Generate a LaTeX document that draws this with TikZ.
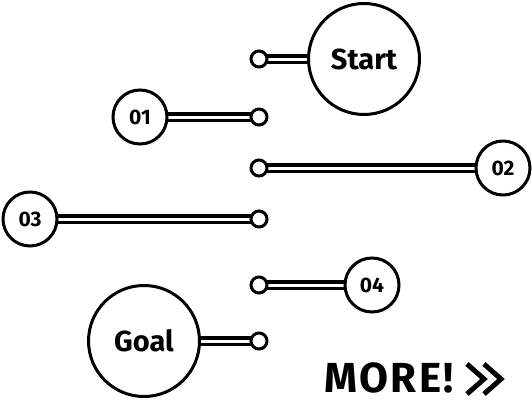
\documentclass[tikz,border=0pt]{standalone}
\usepackage{fontspec}
\setmainfont{Fira Sans}
\usetikzlibrary{backgrounds}
\tikzset{
  ring/.style={circle, draw=black, line width=3pt, fill=white, inner sep=0pt, font=\bfseries},
  bigring/.style={ring, minimum size=111pt, font=\bfseries\fontsize{29}{29}\selectfont},
  numring/.style={ring, minimum size=54pt, font=\bfseries\fontsize{21}{21}\selectfont},
  tipring/.style={ring, minimum size=16pt},
  wire/.style={draw=black, line width=3.3pt, double=white, double distance=3pt}
}
\begin{document}
\begin{tikzpicture}[x=1pt,y=-1pt]
\useasboundingbox (0,0) rectangle (532,402);
\node[bigring] (start) at (364,59) {Start};
\node[tipring] (t0) at (259,59) {};
\node[numring] (n1) at (140,117) {01};
\node[tipring] (t1) at (259,117) {};
\node[numring] (n2) at (503,168) {02};
\node[tipring] (t2) at (259,168) {};
\node[numring] (n3) at (30,219) {03};
\node[tipring] (t3) at (259,219) {};
\node[numring] (n4) at (372,285) {04};
\node[tipring] (t4) at (259,285) {};
\node[bigring] (goal) at (144,341) {Goal};
\node[tipring] (t5) at (259,341) {};
\begin{pgfonlayer}{background}
\draw[wire] (t0.center) -- (start.center);
\draw[wire] (n1.center) -- (t1.center);
\draw[wire] (t2.center) -- (n2.center);
\draw[wire] (n3.center) -- (t3.center);
\draw[wire] (t4.center) -- (n4.center);
\draw[wire] (goal.center) -- (t5.center);
\end{pgfonlayer}
\node[anchor=base west, inner sep=0pt, font=\bfseries\fontsize{42}{42}\selectfont\addfontfeature{LetterSpace=6}] (more) at (324,392) {MORE!};
\coordinate (c1) at (467,364);
\draw[line width=5pt, miter limit=10] (c1) -- ++(17,15) -- ++(-17,15) ++(17,-30) -- ++(17,15) -- ++(-17,15);
\end{tikzpicture}
\end{document}
